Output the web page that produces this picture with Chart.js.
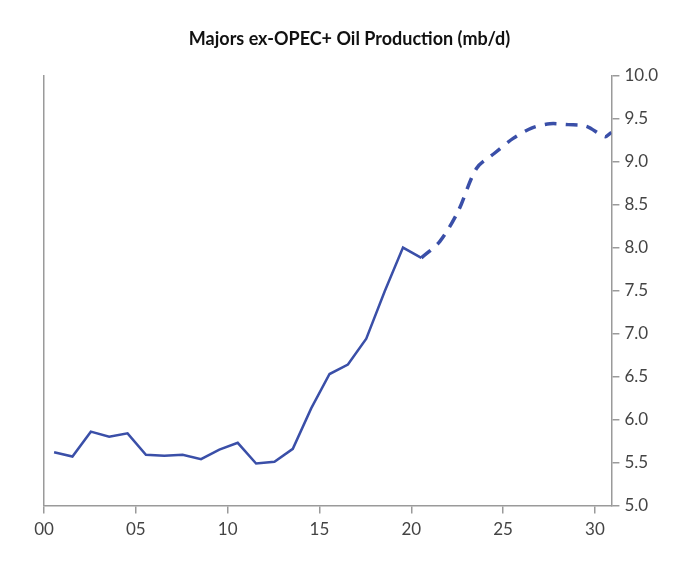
<!DOCTYPE html>
<html><head><meta charset="utf-8">
<script src="https://cdn.jsdelivr.net/npm/chart.js@4"></script>
<style>html,body{margin:0;background:#fff}#w{width:682px;height:586px}</style>
</head><body><div id="w"><canvas id="c"></canvas></div>
<script>
const histYears=[0,1,2,3,4,5,6,7,8,9,10,11,12,13,14,15,16,17,18,19,20];
const histValues=[5.62,5.57,5.86,5.80,5.84,5.59,5.58,5.59,5.54,5.65,5.73,5.49,5.51,5.66,6.13,6.53,6.64,6.94,7.49,8.00,7.88];
const fcYears=[20,21,22,23,24,25,26,27,28,29,30,30.9];
const fcValues=[7.88,8.07,8.42,8.92,9.10,9.27,9.39,9.44,9.43,9.41,9.29,9.34];
const xTicks=[0,5,10,15,20,25,30];
const yTicks=[5.0,5.5,6.0,6.5,7.0,7.5,8.0,8.5,9.0,9.5,10.0];
const off=0.55;
const toPts=(xs,ys)=>xs.map((x,i)=>({x:Math.min(x+off,30.9),y:ys[i]}));
const col='#3a4fa8', axc='#9a9a9a', txt='#444';
new Chart(document.getElementById('c'),{
type:'line',
data:{datasets:[
{data:toPts(histYears,histValues),borderColor:col,borderWidth:2.5,pointRadius:0,tension:0},
{data:toPts(fcYears,fcValues),borderColor:col,borderWidth:3.5,borderDash:[12,9],pointRadius:0,tension:0.3}
]},
options:{responsive:true,maintainAspectRatio:false,animation:false,
layout:{padding:{left:36,right:19,top:6,bottom:40}},
plugins:{legend:{display:false},tooltip:{enabled:false},
title:{display:true,text:'Majors ex-OPEC+ Oil Production (mb/d)',color:'#111',font:{family:'Lato',size:18,weight:'bold'},padding:{top:22,bottom:26}}},
scales:{
x:{type:'linear',min:0,max:30.9,afterBuildTicks:a=>{a.ticks=xTicks.map(v=>({value:v}))},
border:{color:axc,width:1.5},grid:{drawOnChartArea:false,color:axc,tickLength:8,lineWidth:1.5},
ticks:{color:txt,font:{family:'Lato',size:17},padding:6,callback:v=>String(v).padStart(2,'0')}},
y:{position:'right',min:5,max:10,afterBuildTicks:a=>{a.ticks=yTicks.map(v=>({value:v}))},
border:{color:axc,width:1.5},grid:{drawOnChartArea:false,color:axc,tickLength:8,lineWidth:1.5},
ticks:{color:txt,font:{family:'Lato',size:17},padding:5,callback:v=>v.toFixed(1)}},
yl:{position:'left',min:5,max:10,ticks:{display:false},grid:{display:false},border:{color:axc,width:1.5}}
}}});
</script></body></html>
